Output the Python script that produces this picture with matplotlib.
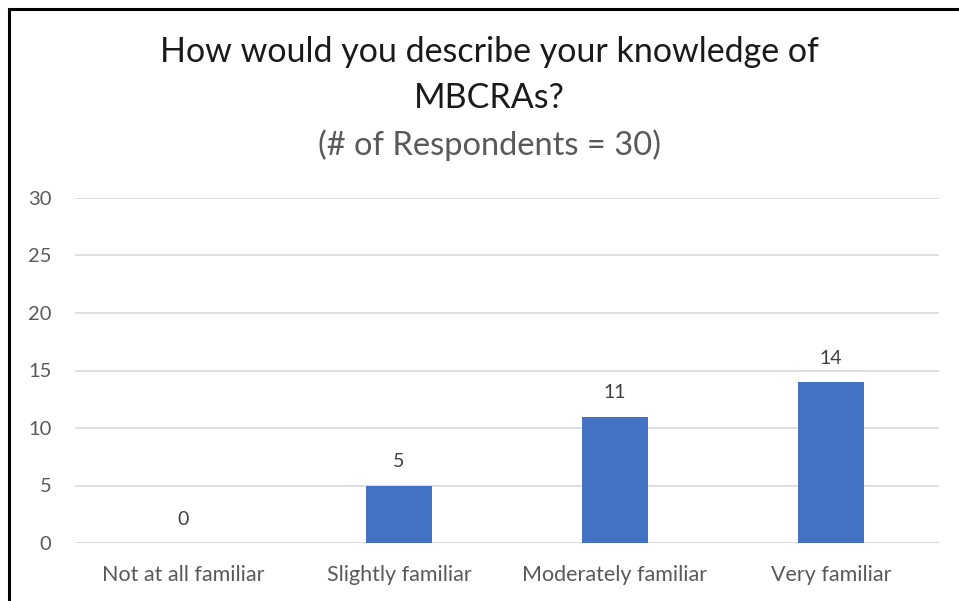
import matplotlib
matplotlib.use("Agg")
import matplotlib.pyplot as plt
from matplotlib.lines import Line2D

categories = ["Not at all familiar", "Slightly familiar", "Moderately familiar", "Very familiar"]
respondents = [0, 5, 11, 14]
y_ticks = [0, 5, 10, 15, 20, 25, 30]

plt.rcParams['font.family'] = ['Lato', 'DejaVu Sans']

fig = plt.figure(figsize=(9.59, 6.01), dpi=100)
W, H = 959, 601
ax = fig.add_axes([75 / W, 1 - 543 / H, (939 - 75) / W, (543 - 198) / H])

x = list(range(len(categories)))
bars = ax.bar(x, respondents, width=0.31, color="#4472C4", zorder=3)
for xi, v in zip(x, respondents):
    ax.annotate(str(v), (xi, v), xytext=(0, 11), textcoords="offset points",
                ha="center", va="bottom", fontsize=14, color="#404040")

ax.set_xlim(-0.5, len(categories) - 0.5)
ax.set_ylim(0, 30)
ax.set_yticks(y_ticks)
ax.set_xticks(x)
ax.set_xticklabels(categories, fontsize=15.5, color="#595959")
ax.tick_params(axis="y", labelsize=14.5, labelcolor="#595959", length=0, pad=17)
ax.tick_params(axis="x", length=0, pad=16)
ax.grid(axis="y", color="#D9D9D9", linewidth=1.2, zorder=0)
for s in ax.spines.values():
    s.set_visible(False)
ax.axhline(0, color="#D9D9D9", linewidth=1.2, zorder=1)

fig.text(489 / W, 1 - 52 / H, "How would you describe your knowledge of",
         ha="center", va="center", fontsize=24.5, color="#1a1a1a")
fig.text(489 / W, 1 - 98 / H, "MBCRAs?",
         ha="center", va="center", fontsize=24.5, color="#1a1a1a")
fig.text(489 / W, 1 - 145 / H, "(# of Respondents = 30)",
         ha="center", va="center", fontsize=23.5, color="#595959")

# outer frame edges (top and left)
fig.add_artist(Line2D([9 / W, 1], [1 - 9 / H, 1 - 9 / H], transform=fig.transFigure,
                      color="black", linewidth=2.2))
fig.add_artist(Line2D([9 / W, 9 / W], [0, 1 - 9 / H], transform=fig.transFigure,
                      color="black", linewidth=2.2))

fig.savefig("out.png", dpi=100)
